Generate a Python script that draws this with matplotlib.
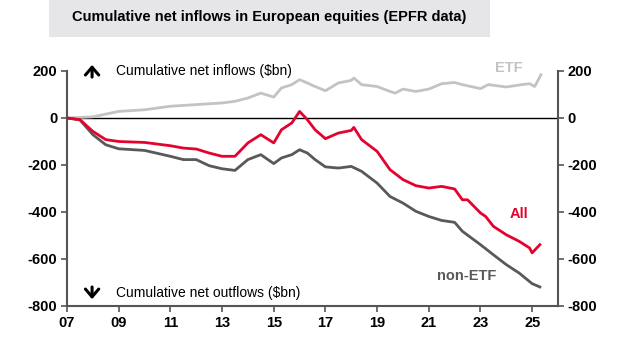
import matplotlib
matplotlib.use('Agg')
import matplotlib.pyplot as plt
import matplotlib.patches as patches

plt.rcParams['font.family'] = ['Liberation Sans', 'DejaVu Sans']

# values ($bn, cumulative)
etf_years = [2007.0, 2008.0, 2009.0, 2010.0, 2011.0, 2012.0, 2013.0, 2013.5, 2014.0,
             2014.5, 2015.0, 2015.3, 2015.7, 2016.0, 2016.3, 2016.6, 2017.0, 2017.5,
             2018.0, 2018.1, 2018.4, 2019.0, 2019.5, 2019.7, 2020.0, 2020.5, 2021.0,
             2021.5, 2022.0, 2022.3, 2023.0, 2023.3, 2024.0, 2024.6, 2024.9, 2025.1,
             2025.34]
etf = [0, 5, 28, 35, 50, 57, 64, 71, 85,
       106, 89, 128, 142, 163, 149, 134, 116, 149,
       160, 170, 142, 134, 113, 106, 123, 113, 123,
       146, 151, 142, 125, 142, 132, 142, 146, 134,
       184]

all_years = [2007.0, 2007.5, 2008.0, 2008.5, 2009.0, 2010.0, 2011.0, 2011.5, 2012.0,
             2012.5, 2013.0, 2013.5, 2014.0, 2014.5, 2015.0, 2015.3, 2015.7, 2016.0,
             2016.3, 2016.6, 2017.0, 2017.5, 2018.0, 2018.1, 2018.4, 2019.0, 2019.5,
             2020.0, 2020.5, 2021.0, 2021.5, 2022.0, 2022.3, 2022.5, 2023.0, 2023.2,
             2023.5, 2024.0, 2024.5, 2024.9, 2025.0, 2025.3]
all_flows = [0, -7, -57, -92, -100, -104, -118, -128, -132,
             -149, -163, -163, -106, -71, -106, -50, -21, 28,
             -7, -50, -88, -64, -53, -40, -92, -142, -220,
             -262, -288, -298, -291, -302, -348, -348, -404, -419,
             -461, -497, -525, -553, -574, -539]

non_years = [2007.0, 2007.5, 2008.0, 2008.5, 2009.0, 2010.0, 2011.0, 2011.5, 2012.0,
             2012.5, 2013.0, 2013.5, 2014.0, 2014.5, 2015.0, 2015.3, 2015.7, 2016.0,
             2016.3, 2016.6, 2017.0, 2017.5, 2018.0, 2018.4, 2019.0, 2019.5, 2020.0,
             2020.5, 2021.0, 2021.5, 2022.0, 2022.3, 2023.0, 2023.5, 2024.0, 2024.5,
             2025.0, 2025.3]
non_etf = [0, -8, -71, -114, -131, -138, -163, -177, -177,
           -203, -216, -223, -177, -156, -194, -170, -156, -135,
           -149, -177, -208, -213, -206, -227, -277, -334, -362,
           -397, -419, -436, -444, -482, -539, -582, -624, -660,
           -705, -719]

xticks = [2007, 2009, 2011, 2013, 2015, 2017, 2019, 2021, 2023, 2025]
xticklabels = ['07', '09', '11', '13', '15', '17', '19', '21', '23', '25']
yticks = [200, 0, -200, -400, -600, -800]

red = '#e4032e'
light = '#c3c3c3'
dark = '#5a5859'
spine = '#555555'

fig = plt.figure(figsize=(6.28, 3.52), dpi=100)
ax = fig.add_axes([0.1067, 0.1307, 0.7818, 0.6676])

# title in grey band
fig.patches.append(patches.Rectangle((0.078, 0.895), 0.702, 0.105,
                                     transform=fig.transFigure,
                                     facecolor='#e6e5e7', edgecolor='none'))
fig.text(0.429, 0.951, 'Cumulative net inflows in European equities (EPFR data)',
         ha='center', va='center', fontsize=10.5, fontweight='bold')

ax.axhline(0, color='black', lw=1.0, zorder=1)
ax.plot(etf_years, etf, color=light, lw=2.0, zorder=2)
ax.plot(non_years, non_etf, color=dark, lw=2.0, zorder=3)
ax.plot(all_years, all_flows, color=red, lw=2.0, zorder=4)

ax.set_xlim(2007, 2026)
ax.set_ylim(-800, 200)
ax.set_xticks(xticks)
ax.set_xticklabels(xticklabels)
ax.set_yticks(yticks)
ax.set_yticklabels([str(v) for v in yticks])

for side in ['left', 'right', 'bottom']:
    ax.spines[side].set_color(spine)
    ax.spines[side].set_linewidth(1.5)
ax.spines['top'].set_visible(False)

ax.tick_params(axis='both', direction='out', length=4, width=1.2, color=spine,
               labelsize=10.5, pad=3)
ax.tick_params(axis='y', left=True, right=True, labelleft=True, labelright=True)
for lab in ax.get_xticklabels() + ax.get_yticklabels():
    lab.set_fontweight('bold')
for t in ax.yaxis.get_major_ticks():
    t.label2.set_fontweight('bold')

# bold arrows next to the inflow / outflow notes
arrow_kw = dict(arrowstyle='->, head_length=0.35, head_width=0.3', lw=2.2,
                color='black', mutation_scale=16, shrinkA=0, shrinkB=0)
ax.annotate('', xy=(2007.97, 226), xytext=(2007.97, 174), arrowprops=arrow_kw,
            annotation_clip=False)
ax.annotate('', xy=(2007.97, -771), xytext=(2007.97, -719), arrowprops=arrow_kw)
ax.text(2008.9, 200, 'Cumulative net inflows ($bn)', ha='left', va='center',
        fontsize=10)
ax.text(2008.9, -745, 'Cumulative net outflows ($bn)', ha='left', va='center',
        fontsize=10)

ax.text(2024.1, 214, 'ETF', color=light, ha='center', va='center',
        fontsize=10.5, fontweight='bold')
ax.text(2024.5, -408, 'All', color=red, ha='center', va='center',
        fontsize=10.5, fontweight='bold')
ax.text(2022.45, -671, 'non-ETF', color=dark, ha='center', va='center',
        fontsize=10.5, fontweight='bold')

fig.savefig('out.png', dpi=100)
